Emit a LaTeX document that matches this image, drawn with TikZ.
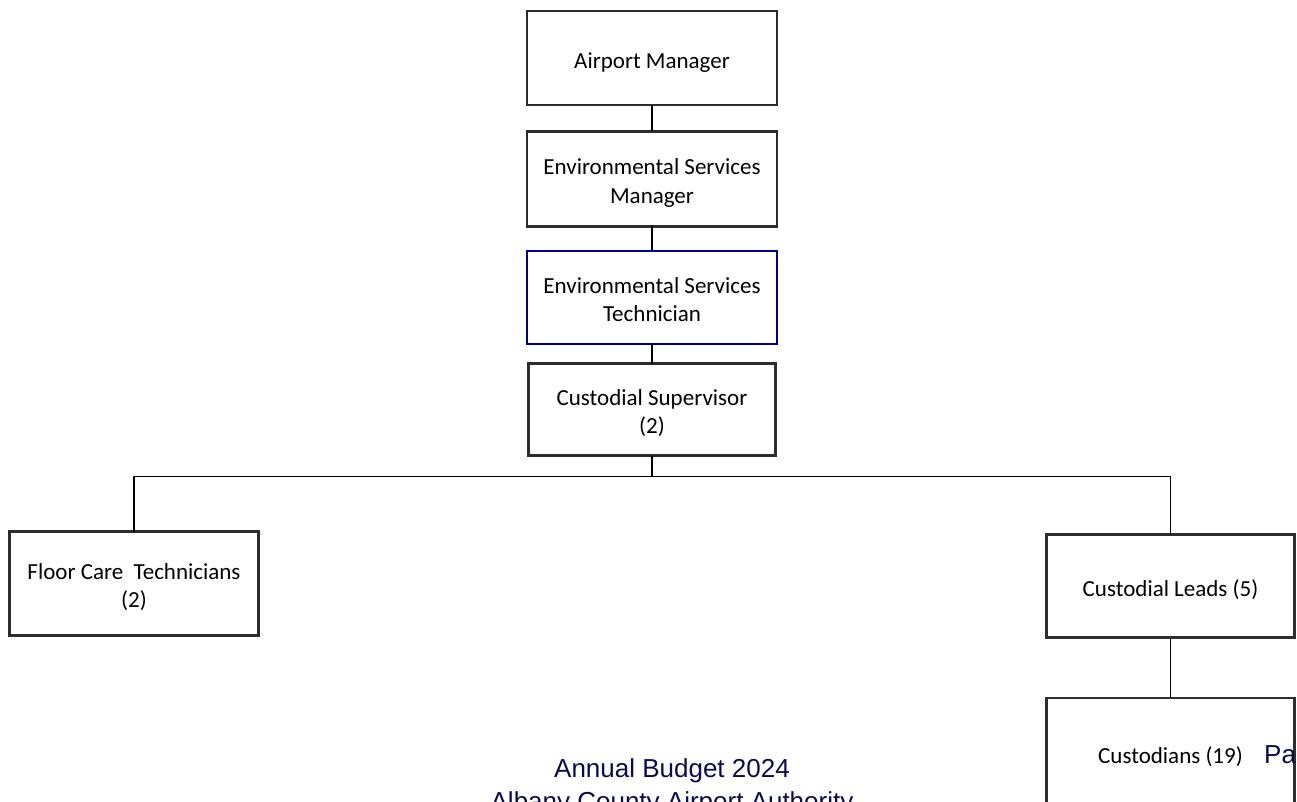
\documentclass[tikz,border=0pt]{standalone}
\usepackage{fontspec}
\setmainfont{Carlito}
\newfontfamily\footfont{Liberation Sans}
\definecolor{boxgray}{RGB}{45,45,45}
\definecolor{techblue}{RGB}{0,0,150}
\definecolor{footnavy}{RGB}{10,10,80}
\newcommand{\bxtext}[1]{\raisebox{-4.5pt}[\height][\depth]{\begin{tabular}{@{}c@{}}#1\end{tabular}}}
\begin{document}
\begin{tikzpicture}[x=1pt,y=-1pt,
  orgbox/.style={draw=boxgray,line width=2.8pt,fill=white,inner sep=0pt,outer sep=0pt,
    align=center,font=\fontsize{23}{28.5}\selectfont},
  bluebox/.style={orgbox,draw=techblue,line width=2.2pt},
  link/.style={draw=black,line width=1.8pt},
  foot/.style={text=footnavy,font=\footfont\fontsize{26}{30}\selectfont,inner sep=0pt}]
\useasboundingbox (0,0) rectangle (1297,802);
\node[orgbox,minimum width=250,minimum height=94] (am) at (652,58) {\bxtext{Airport Manager}};
\node[orgbox,minimum width=250,minimum height=95] (esm) at (652,179) {\bxtext{Environmental Services\\Manager}};
\node[bluebox,minimum width=250,minimum height=93] (est) at (652,297.5) {\bxtext{Environmental Services\\Technician}};
\node[orgbox,minimum width=247,minimum height=92] (cs) at (652,409.5) {\bxtext{Custodial Supervisor\\(2)}};
\node[orgbox,minimum width=249,minimum height=104] (fct) at (134,583.5) {\bxtext{Floor Care\ \ Technicians\\(2)}};
\node[orgbox,minimum width=248,minimum height=103] (cl) at (1170.5,586) {\bxtext{Custodial Leads (5)}};
\node[orgbox,minimum width=248,minimum height=110] (cu) at (1170.5,753) {\bxtext{Custodians (19)}};
\coordinate (j) at (652,476.5);
\draw[link] (am.south) -- (esm.north);
\draw[link] (esm.south) -- (est.north);
\draw[link] (est.south) -- (cs.north);
\draw[link] (cs.south) -- (j);
\draw[link] (j) -| (fct.north);
\draw[link] (j) -| (cl.north);
\draw[link] (cl.south) -- (cu.north);
\node[foot,anchor=base] (ab) at (672,777) {Annual Budget 2024};
\node[foot,anchor=base] (aca) at (672,810) {Albany County Airport Authority};
\node[foot,anchor=west] (pa) at (1264,755) {Pa};
\end{tikzpicture}
\end{document}
